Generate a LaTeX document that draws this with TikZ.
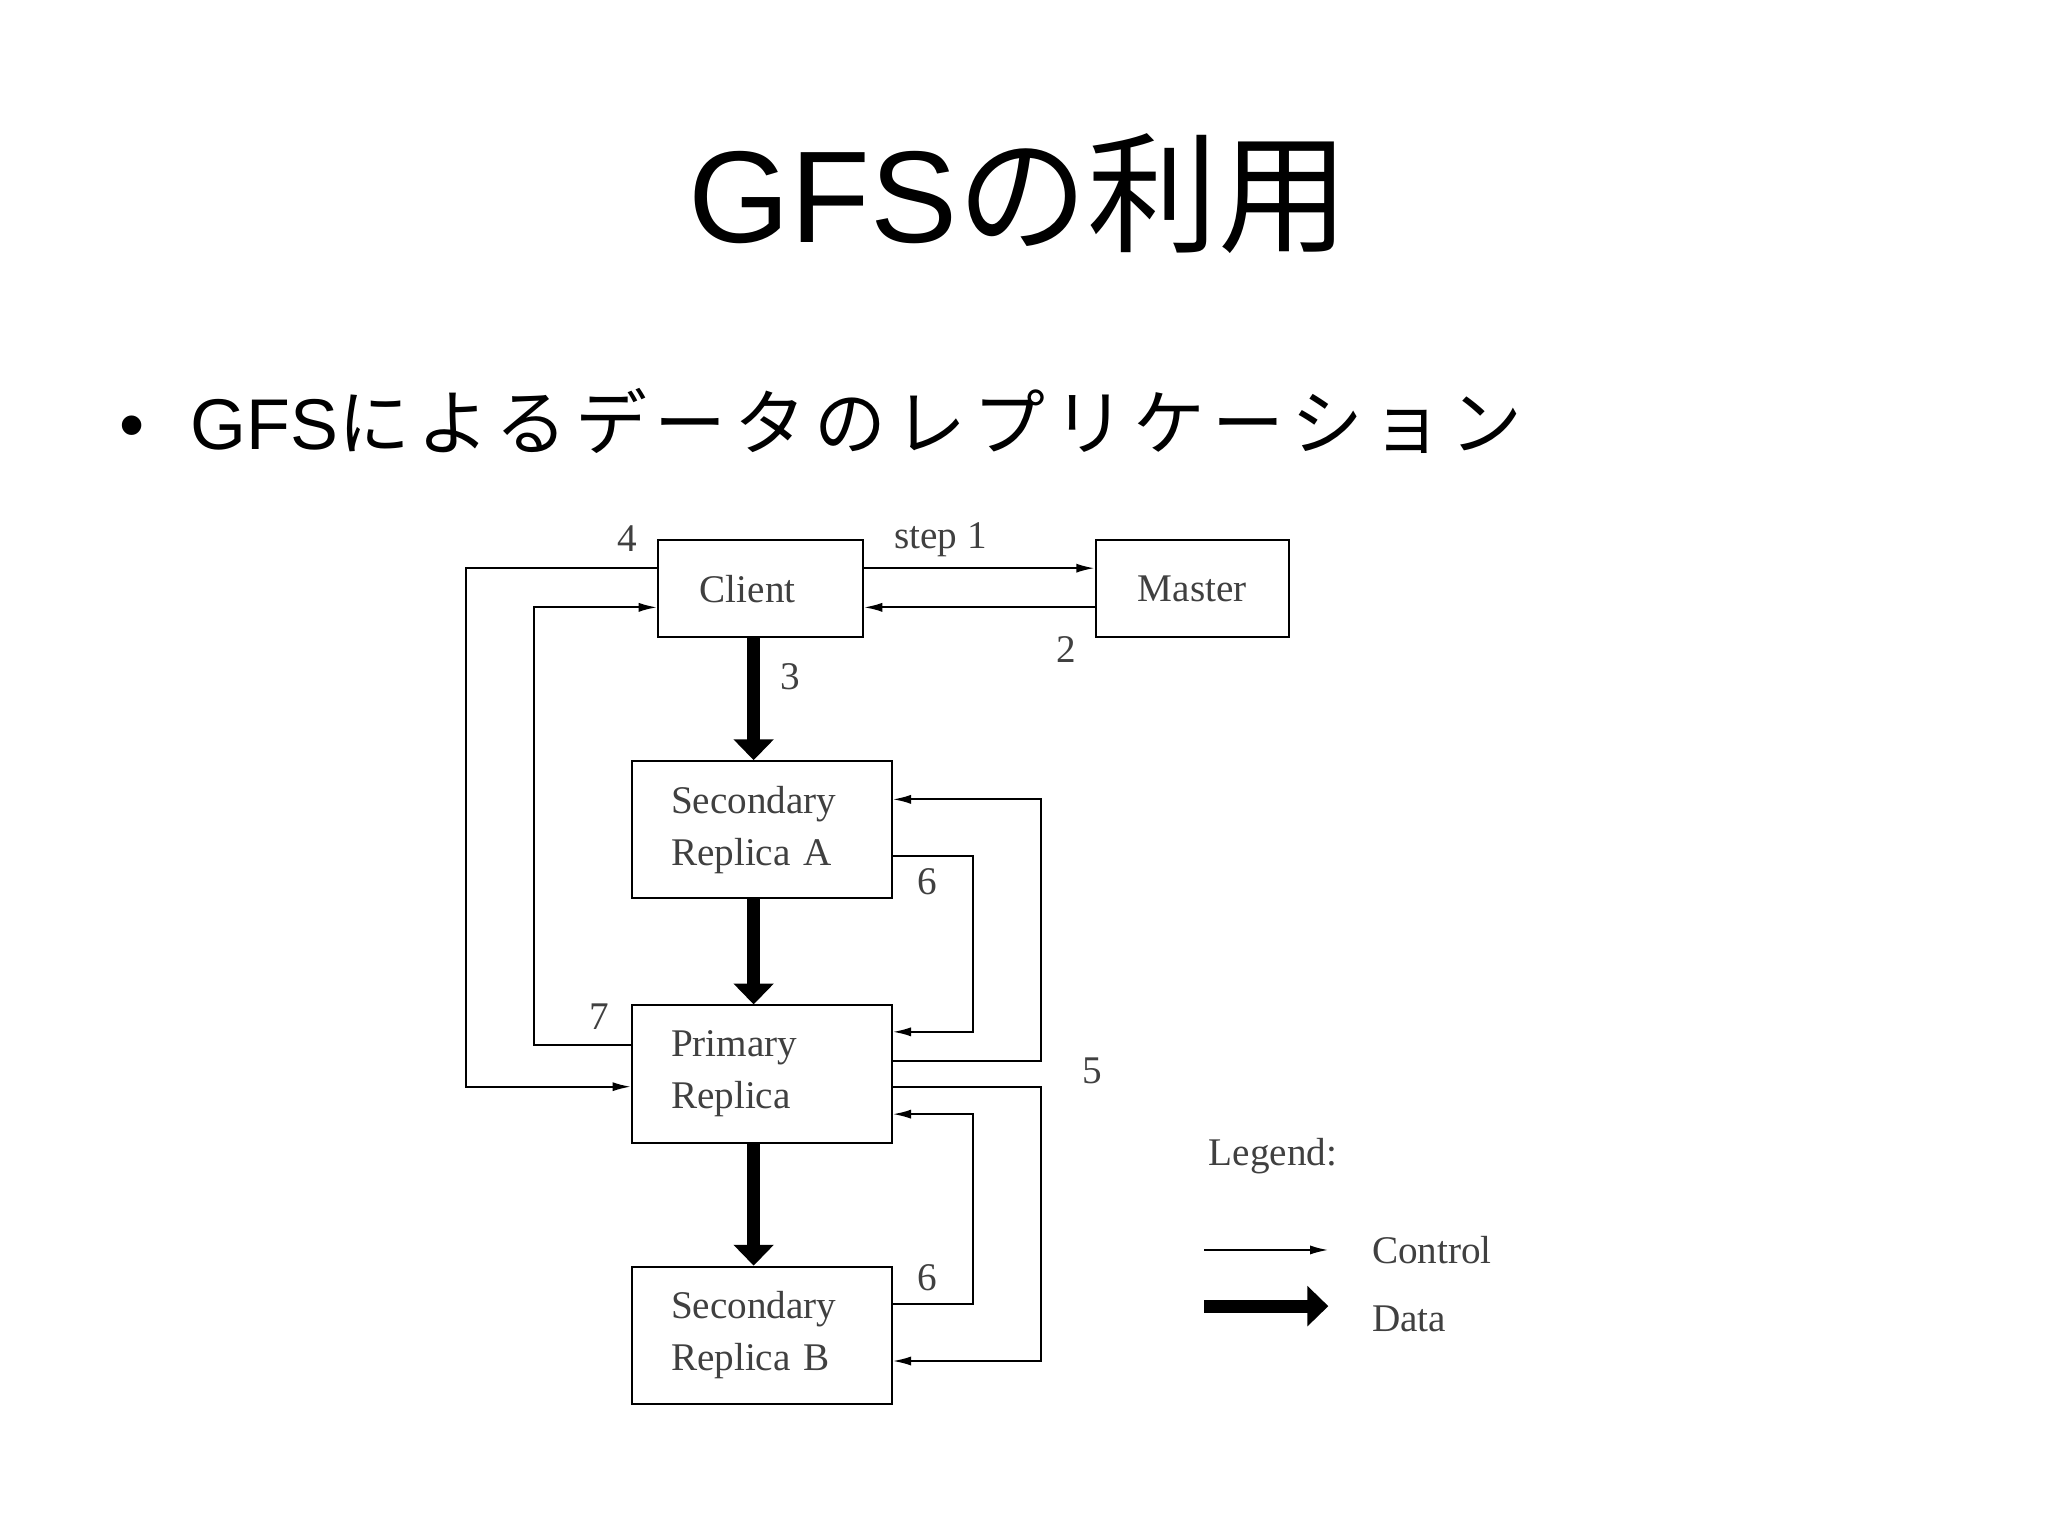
\documentclass[tikz,border=0pt]{standalone}
\usepackage{fontspec}
\setmainfont{Liberation Serif}
\newfontfamily\arialf{Liberation Sans}
\newfontfamily\cjk{Noto Sans CJK JP}
\newfontfamily\cjkw[LetterSpace=11]{Noto Sans CJK JP}
\usetikzlibrary{arrows.meta}
\begin{document}
\begin{tikzpicture}[x=1pt,y=-1pt,
  box/.style={draw,line width=1.5pt,inner sep=0pt,anchor=north west},
  rbox/.style={box,minimum width=199pt,minimum height=105pt,lab,align=left,text width=139pt},
  lab/.style={font=\fontsize{30}{40}\selectfont,text=black!75},
  ctl/.style={line width=1.5pt,-{Latex[length=14pt,width=7pt]}},
  dat/.style={line width=10pt,-{Triangle[length=16pt,width=30pt]}}]
\useasboundingbox[fill=white] (0,0) rectangle (1568,1176);
\node[font=\fontsize{100}{110}\selectfont] (title) at (780,148) {\arialf GFS\cjk の利用};
\node[font=\fontsize{55}{60}\selectfont,anchor=west] (bul) at (88,322) {\arialf •\hspace{35pt}GFS\cjkw によるデータのレプリケーション};
\node[box,minimum width=157pt,minimum height=74pt,lab,text width=125pt,align=left] (cl) at (503,413) {\hspace{16pt}Client};
\node[box,minimum width=148pt,minimum height=74pt,lab] (ms) at (838,413) {Master};
\node[rbox] (sa) at (483,582) {Secondary\\Replica A};
\node[rbox] (pr) at (483,769) {Primary\\Replica};
\node[rbox] (sb) at (483,969) {Secondary\\Replica B};
% control
\draw[ctl] (cl.east |- 0,435) -- (ms.west |- 0,435);
\draw[ctl] (ms.west |- 0,465) -- (cl.east |- 0,465);
\draw[ctl] (cl.west |- 0,435) -- (357,435) -- (357,832) -- (pr.west |- 0,832);
\draw[ctl] (pr.west |- 0,800) -- (409,800) -- (409,465) -- (cl.west |- 0,465);
\draw[ctl] (pr.east |- 0,812) -- (797,812) -- (797,612) -- (sa.east |- 0,612);
\draw[ctl] (pr.east |- 0,832) -- (797,832) -- (797,1042) -- (sb.east |- 0,1042);
\draw[ctl] (sa.east |- 0,655) -- (745,655) -- (745,790) -- (pr.east |- 0,790);
\draw[ctl] (sb.east |- 0,998) -- (745,998) -- (745,853) -- (pr.east |- 0,853);
% data
\draw[dat] (cl.south -| 577,0) -- (sa.north -| 577,0);
\draw[dat] (sa.south -| 577,0) -- (pr.north -| 577,0);
\draw[dat] (pr.south -| 577,0) -- (sb.north -| 577,0);
% labels
\node[lab] (l1) at (720,413) {step 1};
\node[lab] (l2) at (816,497) {2};
\node[lab] (l3) at (605,518) {3};
\node[lab] (l4) at (480,412) {4};
\node[lab] (l5) at (836,820) {5};
\node[lab] (l6a) at (710,675) {6};
\node[lab] (l6b) at (710,978) {6};
\node[lab] (l7) at (459,778) {7};
% legend
\node[lab,anchor=west] (lg) at (922,885) {Legend:};
\coordinate (c1) at (922,957); \coordinate (c2) at (1017,957);
\draw[ctl] (c1) -- (c2);
\coordinate (d1) at (922,1000); \coordinate (d2) at (1017,1000);
\draw[dat] (d1) -- (d2);
\node[lab,anchor=west] (lc) at (1047,957) {Control};
\node[lab,anchor=west] (ld) at (1047,1010) {Data};
\end{tikzpicture}
\end{document}
